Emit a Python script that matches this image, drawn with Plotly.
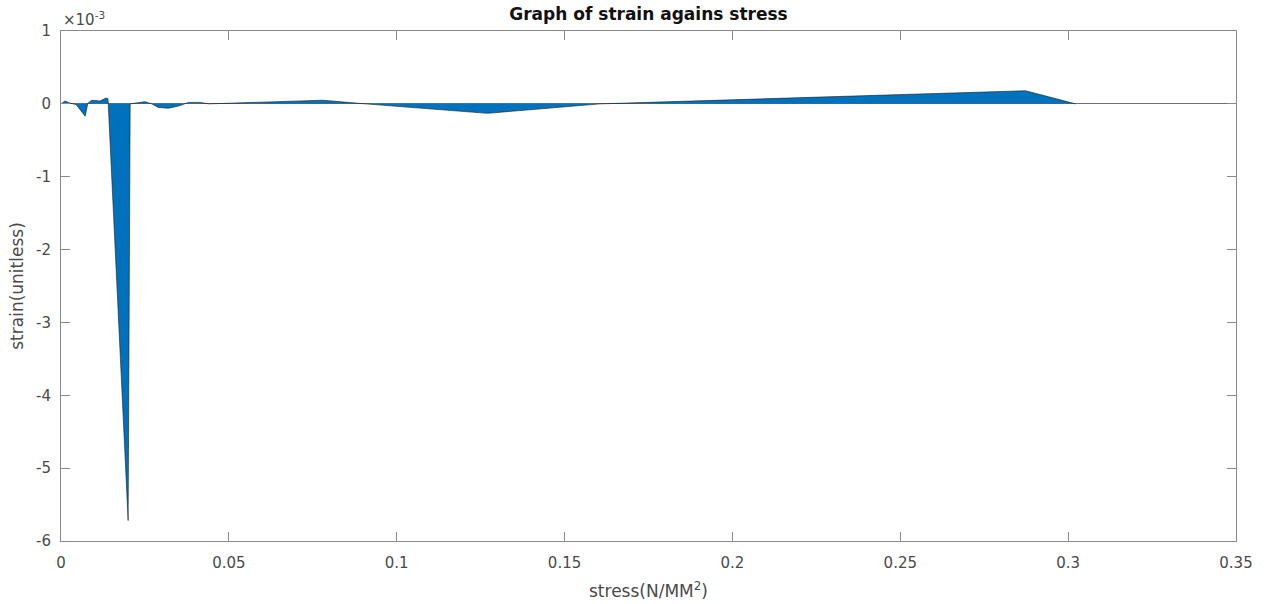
import plotly.graph_objects as go

# stress (N/MM^2) and strain (units of 1e-3)
stress = [0.0, 0.0012, 0.0027, 0.0045, 0.0072, 0.0080, 0.0092, 0.0116, 0.0134,
          0.0140, 0.0200, 0.0206, 0.0250, 0.0270, 0.0290, 0.0320, 0.0350, 0.0380,
          0.0414, 0.0440, 0.0780, 0.0906, 0.1270, 0.1607, 0.2873, 0.3022]
strain_e3 = [0.0, 0.04, 0.01, -0.01, -0.17, 0.01, 0.05, 0.04, 0.08,
             0.07, -5.72, 0.0, 0.03, 0.0, -0.05, -0.06, -0.03, 0.02,
             0.02, 0.0, 0.05, 0.0, -0.13, 0.0, 0.18, 0.0]

x_ticks = [0, 0.05, 0.1, 0.15, 0.2, 0.25, 0.3, 0.35]
x_ticktext = ["0", "0.05", "0.1", "0.15", "0.2", "0.25", "0.3", "0.35"]
y_ticks_e3 = [-6, -5, -4, -3, -2, -1, 0, 1]

strain = [v * 1e-3 for v in strain_e3]

fig = go.Figure()
fig.add_trace(go.Scatter(
    x=stress, y=strain, mode="lines", fill="tozeroy",
    fillcolor="#0072BD", line=dict(color="#1a1a1a", width=0.6),
    showlegend=False, hoverinfo="x+y"))

font = "DejaVu Sans, Liberation Sans, Arial, sans-serif"
txt = "#4a4a4a"
fig.update_layout(
    width=1266, height=604,
    margin=dict(l=61, r=30, t=31, b=63),
    paper_bgcolor="white", plot_bgcolor="white",
    font=dict(family=font, size=15, color=txt),
    title=dict(text="<b>Graph of strain agains stress</b>", x=0.5, xref="paper",
               y=1, yref="container", yanchor="top", pad=dict(t=8),
               font=dict(family=font, size=17, color="#111111")),
)
fig.update_xaxes(
    range=[0, 0.35], tickvals=x_ticks, ticktext=x_ticktext, automargin=False,
    showgrid=False, zeroline=False, showline=True, linecolor="#8a8a8a",
    linewidth=1, mirror="ticks", ticks="inside", ticklen=9, tickcolor="#8a8a8a",
    ticklabelstandoff=8, tickfont=dict(family=font, size=15, color=txt),
    title=dict(text="stress(N/MM<sup>2</sup>)", standoff=14,
               font=dict(family=font, size=17, color=txt)),
)
fig.update_yaxes(
    range=[-6e-3, 1e-3], tickvals=[v * 1e-3 for v in y_ticks_e3],
    ticktext=[str(v) for v in y_ticks_e3], automargin=False,
    showgrid=False, zeroline=True, zerolinecolor="#707070", zerolinewidth=1,
    showline=True, linecolor="#8a8a8a", linewidth=1, mirror="ticks",
    ticks="inside", ticklen=9, tickcolor="#8a8a8a",
    ticklabelstandoff=6, tickfont=dict(family=font, size=15, color=txt),
    title=dict(text="strain(unitless)", standoff=8,
               font=dict(family=font, size=17, color=txt)),
)
fig.add_annotation(text="×10<sup>-3</sup>", xref="paper", yref="paper",
                   x=0, y=1, xanchor="left", yanchor="bottom", showarrow=False,
                   font=dict(family=font, size=15, color=txt))
fig.write_html("out.html")
